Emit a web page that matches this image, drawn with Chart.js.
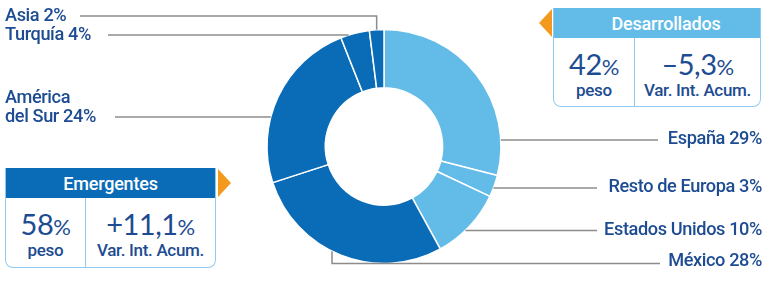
<!DOCTYPE html>
<html>
<head>
<meta charset="utf-8">
<script src="https://cdn.jsdelivr.net/npm/chart.js@4.4.1/dist/chart.umd.min.js"></script>
<style>
  body { margin: 0; background: #fff; font-family: Roboto, Lato, sans-serif; }
  #wrap { position: relative; width: 770px; height: 292px; }
  #wrap canvas { position: absolute; left: 0; top: 0; }
  .box { position: absolute; box-sizing: border-box; border: 1.5px solid #8fcbee; border-top: none;
         border-radius: 0 0 8px 8px; background: #fff; color: #1d4c92; }
  .box .head { height: 30px; line-height: 31px; color: #fff; font-size: 18px; font-weight: 500; text-align: center; letter-spacing: -0.2px; }
  .box .body { display: flex; height: calc(100% - 30px); }
  .box .cell { text-align: center; }
  .box .cell + .cell { border-left: 1.5px solid #8fcbee; flex: 1; }
  .box .big { font-family: Lato, sans-serif; font-size: 29px; line-height: 28px; margin-top: 12px; letter-spacing: -0.5px; }
  .box .big small { font-size: 22px; }
  .box .sub { font-size: 17px; font-weight: 500; line-height: 18px; letter-spacing: -0.3px; }
  .tri { position: absolute; width: 0; height: 0; border-top: 14px solid transparent; border-bottom: 14px solid transparent; }
</style>
</head>
<body>
<div id="wrap">
  <canvas id="donut" width="770" height="292"></canvas>
  <div id="box-0" class="box" style="left:553px; top:8px; width:208px; height:99px;"></div>
  <div id="box-1" class="box" style="left:5px; top:168px; width:211px; height:100px;"></div>
  <div class="tri" style="left:539px; top:9px; border-right:13px solid #f39a1e;"></div>
  <div class="tri" style="left:218px; top:169px; border-left:13px solid #f39a1e;"></div>
</div>
<script>
// datos
const categories = ['España', 'Resto de Europa', 'Estados Unidos', 'México', 'América del Sur', 'Turquía', 'Asia'];
const weights = [29, 3, 10, 28, 24, 4, 2];
const groupOf = [0, 0, 0, 1, 1, 1, 1];
const groups = ['Desarrollados', 'Emergentes'];
const groupWeights = [42, 58];
const groupVariation = ['–5,3', '+11,1'];

const groupColors = ['#63bce7', '#0a6cb6'];
const textColor = '#1d4c92';
const lineColor = '#8c8c8c';

// posicion de las etiquetas (layout only)
const labelLayout = [
  { side: 'right', lineY: 140, end: 658, textY: 139 },
  { side: 'right', lineY: 188, end: 597, textY: 187 },
  { side: 'right', lineY: 230.5, end: 597, textY: 230 },
  { side: 'right', lineY: 263.5, end: 660, textY: 261, elbowX: 332 },
  { side: 'left', lineY: 117, end: 115, textY: 117, twoLines: true },
  { side: 'left', lineY: 35, end: 108, textY: 35 },
  { side: 'left', lineY: 16, end: 80, textY: 16, elbowMid: true }
];

// cajas
groups.forEach(function (g, i) {
  var box = document.getElementById('box-' + i);
  var w = i === 0 ? 80 : 79;
  box.innerHTML =
    '<div class="head" style="background:' + groupColors[i] + (i === 0 ? ';padding-left:18px' : '') + '">' + g + '</div>' +
    '<div class="body">' +
      '<div class="cell" style="width:' + w + 'px"><div class="big">' + groupWeights[i] + '<small>%</small></div><div class="sub">peso</div></div>' +
      '<div class="cell"><div class="big">' + groupVariation[i] + '<small>%</small></div><div class="sub">Var. Int. Acum.</div></div>' +
    '</div>';
});

const leaderLines = {
  id: 'leaderLines',
  afterDraw: function (chart) {
    var ctx = chart.ctx;
    var arcs = chart.getDatasetMeta(0).data;
    ctx.save();
    ctx.strokeStyle = lineColor;
    ctx.lineWidth = 1.5;
    ctx.font = '500 18.2px Roboto';
    ctx.letterSpacing = '-0.4px';
    ctx.fillStyle = textColor;
    ctx.textBaseline = 'middle';
    labelLayout.forEach(function (l, i) {
      var a = arcs[i];
      var r = a.outerRadius;
      var txt = categories[i] + ' ' + weights[i] + '%';
      ctx.beginPath();
      if (l.elbowMid) {
        var mid = (a.startAngle + a.endAngle) / 2;
        var px = a.x + r * Math.cos(mid), py = a.y + r * Math.sin(mid);
        ctx.moveTo(px, py);
        ctx.lineTo(px, l.lineY);
        ctx.lineTo(l.end, l.lineY);
      } else if (l.elbowX) {
        var dx = l.elbowX - a.x;
        var ey = a.y + Math.sqrt(r * r - dx * dx);
        ctx.moveTo(l.elbowX, ey);
        ctx.lineTo(l.elbowX, l.lineY);
        ctx.lineTo(l.end, l.lineY);
      } else {
        var dy = l.lineY - a.y;
        var ex = Math.sqrt(r * r - dy * dy);
        var sx = l.side === 'right' ? a.x + ex : a.x - ex;
        ctx.moveTo(sx, l.lineY);
        ctx.lineTo(l.end, l.lineY);
      }
      ctx.stroke();
      if (l.side === 'right') {
        ctx.textAlign = 'right';
        ctx.fillText(txt, 762, l.textY);
      } else {
        ctx.textAlign = 'left';
        if (l.twoLines) {
          var parts = categories[i].split(' ');
          ctx.fillText(parts[0], 5, l.textY - 19);
          ctx.fillText(parts.slice(1).join(' ') + ' ' + weights[i] + '%', 5, l.textY);
        } else {
          ctx.fillText(txt, 5, l.textY);
        }
      }
    });
    ctx.restore();
  }
};

new Chart(document.getElementById('donut'), {
  type: 'doughnut',
  data: {
    labels: categories,
    datasets: [{
      data: weights,
      backgroundColor: groupOf.map(function (g) { return groupColors[g]; }),
      borderColor: '#ffffff',
      borderWidth: 1.5
    }]
  },
  options: {
    responsive: false,
    animation: false,
    radius: 117,
    cutout: 58,
    layout: { padding: { left: 0, right: 2, top: 30, bottom: 29 } },
    plugins: { legend: { display: false }, tooltip: { enabled: false } }
  },
  plugins: [leaderLines]
});
</script>
</body>
</html>
